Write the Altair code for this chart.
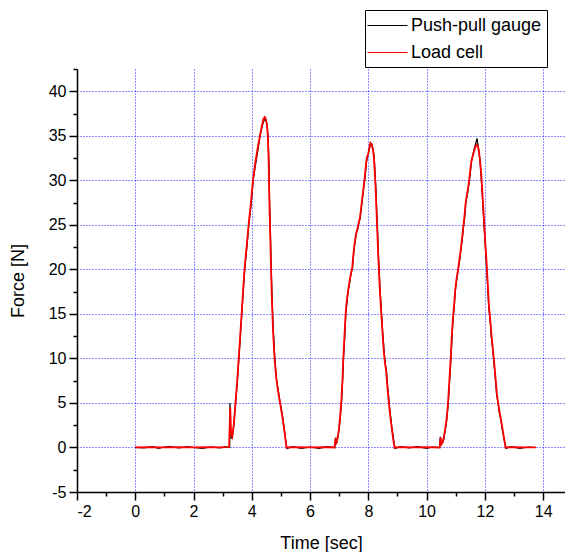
import altair as alt
import pandas as pd

# Load cell (red)
t_load = [0.0, 0.5, 1.0, 1.5, 2.0, 2.5, 3.0, 3.22,
          3.26, 3.29, 3.33, 3.38, 3.44, 3.50, 3.56, 3.62, 3.68, 3.75, 3.82, 3.89, 3.97, 4.04,
          4.12, 4.20, 4.28, 4.35, 4.40, 4.44, 4.48, 4.52, 4.55, 4.58, 4.60, 4.63, 4.66, 4.69,
          4.73, 4.78, 4.84, 4.90, 4.97, 5.04, 5.10, 5.16, 5.19,
          5.5, 6.0, 6.5, 6.84,
          6.87, 6.91, 6.95, 6.99, 7.03, 7.07, 7.11, 7.14, 7.18, 7.22, 7.26, 7.30, 7.35, 7.39,
          7.45, 7.49, 7.53, 7.58, 7.62, 7.67, 7.71, 7.75, 7.79, 7.84, 7.88, 7.92, 7.95, 8.00,
          8.04, 8.07, 8.11, 8.15, 8.19, 8.22, 8.25, 8.28, 8.31, 8.34, 8.37, 8.40, 8.44, 8.48,
          8.53, 8.57, 8.61, 8.65, 8.69, 8.73, 8.77, 8.81, 8.85, 8.90,
          9.2, 9.6, 10.0, 10.45,
          10.48, 10.51, 10.54, 10.58, 10.62, 10.67, 10.71, 10.74, 10.77, 10.80, 10.83, 10.86,
          10.89, 10.94, 10.98, 11.02, 11.08, 11.13, 11.17, 11.21, 11.25, 11.30, 11.34, 11.40,
          11.45, 11.49, 11.53, 11.58, 11.63, 11.68, 11.72, 11.76, 11.80, 11.84, 11.88, 11.92,
          11.97, 12.01, 12.06, 12.10, 12.14, 12.19, 12.23, 12.27, 12.31, 12.36, 12.41, 12.46,
          12.51, 12.56, 12.60, 12.66, 12.71,
          13.0, 13.4, 13.75]
f_load = [0.0, 0.05, 0.0, 0.05, 0.0, 0.05, 0.0, 0.05,
          4.5, 1.5, 1.2, 2.5, 5.0, 7.5, 10.5, 13.5, 16.5, 20.0, 22.5, 25.0, 27.5, 30.0,
          32.0, 33.6, 35.0, 36.2, 36.9, 37.1, 36.9, 36.2, 35.0, 32.0, 28.0, 24.0, 20.0, 16.5,
          13.0, 10.0, 7.8, 6.3, 5.0, 3.6, 2.3, 0.8, 0.0,
          0.05, 0.0, 0.05, 0.0,
          1.0, 0.6, 1.2, 2.0, 3.5, 5.0, 7.5, 10.0, 12.5, 15.0, 16.5, 17.5, 18.6, 19.3,
          20.3, 21.8, 23.0, 24.0, 24.5, 25.2, 25.8, 26.8, 28.0, 29.3, 30.5, 31.8, 32.6, 33.0,
          33.8, 34.2, 34.0, 33.6, 32.6, 31.0, 29.0, 26.5, 24.0, 21.5, 19.3, 17.4, 15.2, 13.2,
          10.8, 9.5, 8.6, 7.0, 5.5, 4.2, 3.0, 2.0, 1.0, 0.0,
          0.05, 0.0, 0.05, 0.0,
          1.1, 0.4, 0.5, 1.0, 1.7, 2.8, 4.0, 5.3, 6.9, 8.6, 10.2, 12.2,
          13.9, 15.9, 17.6, 18.8, 20.0, 21.2, 22.2, 23.3, 24.5, 26.0, 27.5, 28.7,
          29.7, 30.9, 32.0, 32.7, 33.3, 33.8, 34.0, 33.8, 33.2, 32.0, 30.5, 28.3,
          25.6, 23.2, 20.7, 18.3, 15.9, 14.1, 12.5, 11.2, 9.9, 8.0, 6.1, 4.9,
          3.9, 3.0, 2.2, 1.0, 0.0,
          0.05, 0.0, 0.0]

# Push-pull gauge (black)
t_gauge = [0.0, 0.3, 0.6, 0.8, 1.0, 1.2, 1.5, 1.8, 2.0, 2.3, 2.6, 2.9, 3.1, 3.24,
           3.25, 3.27, 3.30, 3.34, 3.39, 3.45, 3.51, 3.57, 3.63, 3.69, 3.76, 3.83, 3.90, 3.98,
           4.05, 4.13, 4.21, 4.29, 4.36, 4.41, 4.45, 4.47, 4.49, 4.53, 4.56, 4.59, 4.61, 4.64,
           4.67, 4.70, 4.74, 4.79, 4.85, 4.91, 4.98, 5.05, 5.11, 5.17, 5.20,
           5.4, 5.7, 6.0, 6.3, 6.6, 6.85,
           6.88, 6.92, 6.96, 7.00, 7.04, 7.08, 7.12, 7.15, 7.19, 7.23, 7.27, 7.31, 7.36, 7.40,
           7.46, 7.50, 7.54, 7.59, 7.63, 7.68, 7.72, 7.76, 7.80, 7.85, 7.89, 7.93, 7.96, 8.01,
           8.05, 8.08, 8.12, 8.16, 8.20, 8.23, 8.26, 8.29, 8.32, 8.35, 8.38, 8.41, 8.45, 8.49,
           8.54, 8.58, 8.62, 8.66, 8.70, 8.74, 8.78, 8.82, 8.86, 8.91,
           9.1, 9.4, 9.7, 10.0, 10.2, 10.44,
           10.47, 10.50, 10.55, 10.59, 10.63, 10.68, 10.72, 10.75, 10.78, 10.81, 10.84, 10.87,
           10.90, 10.95, 10.99, 11.03, 11.09, 11.14, 11.18, 11.22, 11.26, 11.31, 11.35, 11.41,
           11.46, 11.50, 11.54, 11.59, 11.64, 11.69, 11.73, 11.75, 11.79, 11.83, 11.87, 11.91,
           11.96, 12.00, 12.05, 12.09, 12.13, 12.18, 12.22, 12.26, 12.30, 12.35, 12.40, 12.45,
           12.50, 12.55, 12.59, 12.65, 12.72,
           12.9, 13.2, 13.5, 13.72]
f_gauge = [0.0, -0.05, 0.1, -0.1, 0.05, 0.1, -0.05, 0.1, 0.0, -0.1, 0.05, -0.05, 0.1, 0.0,
           5.0, 2.0, 1.0, 1.4, 2.8, 5.2, 7.7, 10.6, 13.6, 16.7, 20.1, 22.4, 25.1, 27.4,
           30.1, 31.8, 33.4, 35.1, 36.1, 36.7, 37.0, 36.6, 36.8, 36.0, 34.8, 31.8, 27.8, 24.1,
           19.8, 16.4, 13.1, 10.1, 7.6, 6.4, 4.9, 3.7, 2.2, 0.7, -0.1,
           0.1, -0.1, 0.05, -0.1, 0.1, 0.0,
           1.1, 0.5, 1.3, 2.1, 3.4, 5.1, 7.6, 10.1, 12.4, 15.1, 16.4, 17.6, 18.5, 19.4,
           20.2, 21.9, 22.9, 24.1, 24.4, 25.3, 25.7, 26.9, 27.9, 29.4, 30.4, 31.9, 32.5, 33.1,
           33.7, 34.1, 34.1, 33.5, 32.7, 30.9, 29.1, 26.4, 24.1, 21.4, 19.4, 17.3, 15.3, 13.1,
           10.9, 9.4, 8.7, 6.9, 5.6, 4.1, 3.1, 1.9, 1.1, -0.1,
           0.1, -0.05, 0.1, -0.1, 0.05, 0.0,
           1.2, 0.3, 0.6, 0.9, 1.8, 2.7, 4.1, 5.2, 7.0, 8.5, 10.3, 12.1,
           14.0, 15.8, 17.7, 18.7, 20.1, 21.1, 22.3, 23.2, 24.6, 25.9, 27.6, 28.6,
           29.8, 30.8, 32.1, 32.9, 33.6, 34.2, 34.7, 34.3, 33.4, 32.2, 30.4, 28.4,
           25.5, 23.3, 20.6, 18.4, 15.8, 14.2, 12.4, 11.3, 9.8, 8.1, 6.0, 5.0,
           3.8, 3.1, 2.1, 1.1, -0.1,
           0.1, -0.1, 0.05, 0.0]

series_names = ["Push-pull gauge", "Load cell"]
series_colors = ["#000000", "#ff0000"]
x_ticks = list(range(-2, 15))
y_ticks = [v * 2.5 for v in range(-2, 18)]

gauge = pd.DataFrame({"t": t_gauge, "f": f_gauge, "s": series_names[0]})
load = pd.DataFrame({"t": t_load, "f": f_load, "s": series_names[1]})

FONT = "Liberation Sans"
GRID = "#1f1fff"

x_axis = alt.Axis(
    values=x_ticks,
    labelExpr="datum.value % 2 == 0 ? '' + datum.value : ''",
    tickSize={"condition": {"test": "datum.value % 2 != 0", "value": 4}, "value": 8},
    gridOpacity={"condition": {"test": "datum.value % 2 != 0 || datum.value == -2", "value": 0}, "value": 1},
    grid=True, gridColor=GRID, gridDash=[1, 2], gridWidth=1,
    domainColor="black", domainWidth=1.5, tickColor="black", tickWidth=1.5,
    labelFont=FONT, labelFontSize=16, labelColor="black", labelPadding=3,
    title="Time [sec]", titleFont=FONT, titleFontSize=18, titleFontWeight="normal",
    titleColor="black", titlePadding=15,
)
y_axis = alt.Axis(
    values=y_ticks,
    labelExpr="datum.value % 5 == 0 ? '' + datum.value : ''",
    tickSize={"condition": {"test": "datum.value % 5 != 0", "value": 4}, "value": 8},
    gridOpacity={"condition": {"test": "datum.value % 5 != 0 || datum.value == -5", "value": 0}, "value": 1},
    grid=True, gridColor=GRID, gridDash=[1, 2], gridWidth=1,
    domainColor="black", domainWidth=1.5, tickColor="black", tickWidth=1.5,
    labelFont=FONT, labelFontSize=16, labelColor="black", labelPadding=3,
    title="Force [N]", titleFont=FONT, titleFontSize=18, titleFontWeight="normal",
    titleColor="black", titlePadding=21,
)

color = alt.Color(
    "s:N",
    scale=alt.Scale(domain=series_names, range=series_colors),
    legend=alt.Legend(
        orient="none", legendX=288, legendY=-59, title=None,
        symbolType="M-2,0H2", symbolSize=400, symbolStrokeWidth=1,
        symbolOffset=7, labelOffset=13,
        labelFont=FONT, labelFontSize=18, labelColor="black",
        padding=5, rowPadding=7, strokeColor="black", fillColor="white",
    ),
)

x = alt.X("t:Q", scale=alt.Scale(domain=[-2, 14.75], nice=False, zero=False), axis=x_axis)
y = alt.Y("f:Q", scale=alt.Scale(domain=[-5, 42.5], nice=False, zero=False), axis=y_axis)

black = alt.Chart(gauge).mark_line(strokeWidth=1.2, clip=True).encode(x=x, y=y, color=color, order="t:Q")
red = alt.Chart(load).mark_line(strokeWidth=1.8, clip=True).encode(x=x, y=y, color=color, order="t:Q")

chart = alt.layer(black, red).properties(
    width=488, height=423,
    autosize=alt.AutoSizeParams(type="none"),
    padding={"left": 69, "top": 61, "right": 0, "bottom": 60},
    background="white",
).configure_view(stroke=None)

chart.save("out.html", embed_options={"renderer": "svg", "actions": False})
